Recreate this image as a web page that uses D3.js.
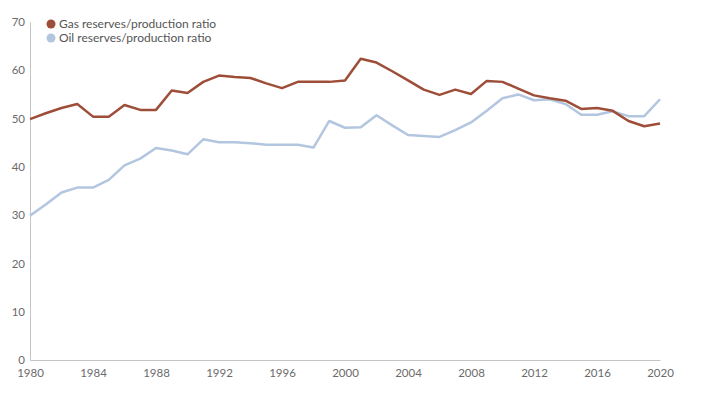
<!DOCTYPE html>
<html>
<head>
<meta charset="utf-8">
<script src="https://cdn.jsdelivr.net/npm/d3@7"></script>
<style>
  body { margin: 0; background: #fff; }
  text { font-family: Lato, 'Open Sans', sans-serif; }
</style>
</head>
<body>
<script>
// reserves/production ratio, years
const years = d3.range(1980, 2021);
const gasRatio = [
  49.9, 51.1, 52.2, 53.0, 50.4, 50.4, 52.8, 51.8, 51.8, 55.8,
  55.3, 57.6, 58.9, 58.6, 58.4, 57.3, 56.3, 57.6, 57.6, 57.6,
  57.9, 62.4, 61.6, 59.8, 57.9, 56.0, 54.9, 56.0, 55.1, 57.8,
  57.6, 56.2, 54.8, 54.2, 53.7, 52.0, 52.2, 51.6, 49.5, 48.4,
  49.0
];
const oilRatio = [
  29.9, 32.2, 34.7, 35.7, 35.7, 37.3, 40.3, 41.7, 43.9, 43.4,
  42.6, 45.7, 45.1, 45.1, 44.9, 44.6, 44.6, 44.6, 44.0, 49.5,
  48.1, 48.2, 50.7, 48.6, 46.6, 46.4, 46.2, 47.6, 49.2, 51.6,
  54.2, 55.0, 53.8, 54.0, 53.0, 50.8, 50.8, 51.5, 50.5, 50.5,
  54.0
];
const xTicks = [1980, 1984, 1988, 1992, 1996, 2000, 2004, 2008, 2012, 2016, 2020];
const yTicks = [0, 10, 20, 30, 40, 50, 60, 70];
const seriesNames = ['Gas reserves/production ratio', 'Oil reserves/production ratio'];
const colors = ['#9e4e38', '#b3c6e0'];

const width = 719, height = 396;
const svg = d3.select('body').append('svg')
  .attr('width', width)
  .attr('height', height);

const x = d3.scaleLinear().domain([1980, 2020]).range([30, 660]);
const y = d3.scaleLinear().domain([0, 70]).range([360, 22]);

// x axis
const xAxis = svg.append('g')
  .attr('transform', `translate(0, ${y(0)})`)
  .call(d3.axisBottom(x).tickValues(xTicks).tickFormat(d3.format('d')).tickSize(0).tickPadding(9));
xAxis.select('.domain').attr('stroke', '#c4c4c4');
xAxis.selectAll('text').attr('fill', '#6b6b6b').style('font-size', '11.5px');

// y axis
const yAxis = svg.append('g')
  .attr('transform', `translate(${x(1980)}, 0)`)
  .call(d3.axisLeft(y).tickValues(yTicks).tickSize(0).tickPadding(5));
yAxis.select('.domain').attr('stroke', '#c4c4c4');
yAxis.selectAll('text').attr('fill', '#6b6b6b').style('font-size', '11.5px');

const line = d3.line()
  .x((d, i) => x(years[i]))
  .y(d => y(d));

svg.append('path')
  .datum(oilRatio)
  .attr('fill', 'none')
  .attr('stroke', colors[1])
  .attr('stroke-width', 2.5)
  .attr('stroke-linejoin', 'round')
  .attr('d', line);

svg.append('path')
  .datum(gasRatio)
  .attr('fill', 'none')
  .attr('stroke', colors[0])
  .attr('stroke-width', 2.5)
  .attr('stroke-linejoin', 'round')
  .attr('d', line);

// legend
const legend = svg.append('g').attr('transform', 'translate(51, 24)');
legend.selectAll('circle')
  .data(seriesNames)
  .enter()
  .append('circle')
  .attr('cx', 0)
  .attr('cy', (_, i) => i * 14)
  .attr('r', 4.5)
  .attr('fill', (_, i) => colors[i]);
legend.selectAll('text')
  .data(seriesNames)
  .enter()
  .append('text')
  .attr('x', 8)
  .attr('y', (_, i) => i * 14)
  .attr('dy', '0.35em')
  .attr('fill', '#555')
  .style('font-size', '12px')
  .text(d => d);
</script>
</body>
</html>
